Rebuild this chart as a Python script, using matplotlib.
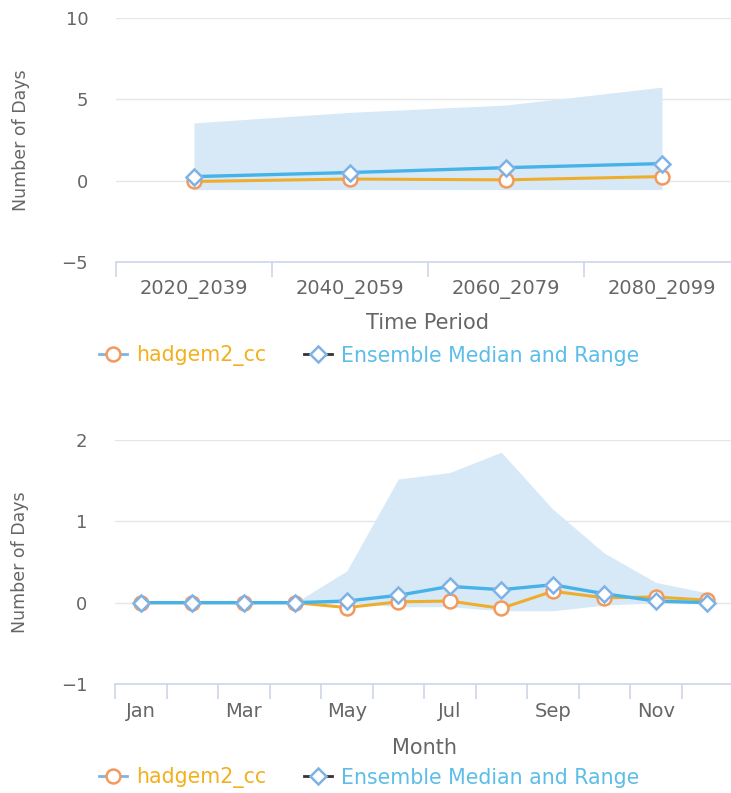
import matplotlib
matplotlib.use("Agg")
import matplotlib.pyplot as plt
from matplotlib.lines import Line2D
import numpy as np

plt.rcParams['font.family'] = ['DejaVu Sans']

# ---- data: time periods ----
periods = ["2020_2039", "2040_2059", "2060_2079", "2080_2099"]
period_hadgem = [-0.05, 0.1, 0.05, 0.25]
period_median = [0.25, 0.5, 0.8, 1.05]
period_low = [-0.55, -0.55, -0.55, -0.55]
period_high = [3.55, 4.2, 4.65, 5.75]

# ---- data: months ----
months = ["Jan", "Feb", "Mar", "Apr", "May", "Jun", "Jul", "Aug", "Sep", "Oct", "Nov", "Dec"]
month_hadgem = [0, 0, 0, 0, -0.06, 0.01, 0.02, -0.07, 0.14, 0.06, 0.07, 0.03]
month_median = [0, 0, 0, 0, 0.02, 0.09, 0.2, 0.16, 0.22, 0.11, 0.02, 0.0]
month_low = [0, 0, 0, 0, 0, -0.05, -0.05, -0.1, -0.1, -0.03, 0, 0]
month_high = [0, 0, 0, 0, 0.39, 1.52, 1.6, 1.85, 1.15, 0.61, 0.25, 0.12]

W, H = 731, 793
fig = plt.figure(figsize=(W / 100, H / 100), dpi=100)

TXT = '#666666'
GRID = '#e6e6e6'
AXIS = '#ccd6eb'
FILL = '#d7e9f6'
H_LINE = '#eead2d'
H_EDGE = '#f29a5e'
E_LINE = '#45b3e8'
E_EDGE = '#7eb2e6'
H_TXT = '#f2b01e'
E_TXT = '#5bbde8'


def px_axes(left, top, right, bottom):
    return fig.add_axes([left / W, 1 - bottom / H, (right - left) / W, (bottom - top) / H])


def style(ax):
    for s in ['top', 'right', 'left']:
        ax.spines[s].set_visible(False)
    ax.spines['bottom'].set_color(AXIS)
    ax.spines['bottom'].set_linewidth(1.2)
    ax.yaxis.grid(True, color=GRID, linewidth=1.0)
    ax.set_axisbelow(True)
    ax.tick_params(axis='y', length=0, labelsize=13, labelcolor=TXT, pad=20)
    ax.tick_params(axis='x', which='major', length=0, labelsize=14, labelcolor=TXT, pad=13)
    ax.tick_params(axis='x', which='minor', length=11, color=AXIS, width=1.2)


def draw(ax, x, low, high, hadgem, median):
    ax.fill_between(x, low, high, color=FILL, linewidth=0, zorder=1)
    ax.plot(x, hadgem, color=H_LINE, lw=2.2, marker='o', ms=10, mfc='white',
            mec=H_EDGE, mew=1.8, zorder=3)
    ax.plot(x, median, color=E_LINE, lw=2.4, marker='D', ms=8.5, mfc='white',
            mec=E_EDGE, mew=1.8, zorder=4)


def legend(ax, y_px):
    hh = Line2D([], [], color='#7fb4e0', lw=2, marker='o', ms=10, mfc='white', mec=H_EDGE, mew=1.8)
    eh = Line2D([], [], color='#333333', lw=2, marker='D', ms=8.5, mfc='white', mec=E_EDGE, mew=1.8)
    leg = fig.legend([hh, eh], ["hadgem2_cc", "Ensemble Median and Range"],
                     loc='center left', bbox_to_anchor=(91 / W, 1 - y_px / H),
                     ncol=2, frameon=False, fontsize=14.8, handlelength=1.35,
                     handletextpad=0.45, columnspacing=1.85, borderaxespad=0)
    leg.get_texts()[0].set_color(H_TXT)
    leg.get_texts()[1].set_color(E_TXT)


# ---- top chart ----
ax1 = px_axes(116, 18, 740, 262)
style(ax1)
x1 = np.arange(len(periods))
draw(ax1, x1, period_low, period_high, period_hadgem, period_median)
ax1.set_xlim(-0.5, len(periods) - 0.5)
ax1.set_ylim(-5, 10)
ax1.set_yticks([-5, 0, 5, 10])
ax1.set_yticklabels(['\u22125', '0', '5', '10'], ha='right')
ax1.set_xticks(x1)
ax1.set_xticklabels(periods)
ax1.set_xticks(np.arange(-0.5, len(periods), 1.0), minor=True)
ax1.set_xlabel("Time Period", fontsize=15, color=TXT, labelpad=10)
ax1.set_ylabel("Number of Days", fontsize=12.5, color=TXT, labelpad=23)
legend(ax1, 356)

# ---- bottom chart ----
ax2 = px_axes(115, 440, 733, 684)
style(ax2)
x2 = np.arange(len(months))
draw(ax2, x2, month_low, month_high, month_hadgem, month_median)
ax2.set_xlim(-0.5, len(months) - 0.5)
ax2.set_ylim(-1, 2)
ax2.set_yticks([-1, 0, 1, 2])
ax2.set_yticklabels(['\u22121', '0', '1', '2'], ha='right')
ax2.set_xticks(x2[::2])
ax2.set_xticklabels(months[::2])
ax2.set_xticks(np.arange(-0.5, len(months), 1.0), minor=True)
ax2.set_xlabel("Month", fontsize=15, color=TXT, labelpad=12)
ax2.set_ylabel("Number of Days", fontsize=12.5, color=TXT, labelpad=23)
legend(ax2, 778)

fig.savefig("out.png", dpi=100)
